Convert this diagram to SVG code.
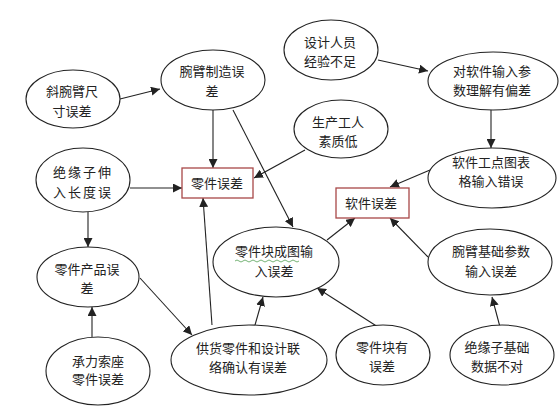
<svg xmlns="http://www.w3.org/2000/svg" width="560" height="420" viewBox="0 0 560 420">
<style>
.n ellipse{fill:#fff;stroke:#222;stroke-width:1.1}
.n rect{fill:#fff;stroke:#a84848;stroke-width:1.3}
.n text{font-family:"Noto Sans CJK SC","Noto Sans",sans-serif;font-size:13px;fill:#222;text-anchor:middle}
.c line{stroke:#222;stroke-width:1.1;marker-end:url(#ah)}
</style>
<defs>
<marker id="ah" viewBox="0 0 10 10" refX="10" refY="5" markerWidth="9" markerHeight="9" markerUnits="userSpaceOnUse" orient="auto">
<path d="M0,0 L10,5 L0,10 z" fill="#222"/>
</marker>
</defs>
<rect width="560" height="420" fill="#fff"/>
<g class="c">
<line x1="120" y1="99" x2="160" y2="89"/>
<line x1="213" y1="110" x2="213" y2="168"/>
<line x1="233" y1="110" x2="293" y2="227"/>
<line x1="305" y1="150" x2="254" y2="178"/>
<line x1="130" y1="188" x2="182" y2="188"/>
<line x1="88" y1="212" x2="88" y2="247"/>
<line x1="92" y1="337" x2="92" y2="307"/>
<line x1="140" y1="278" x2="192" y2="335"/>
<line x1="212" y1="325" x2="203" y2="198"/>
<line x1="255" y1="325" x2="263" y2="297"/>
<line x1="378" y1="327" x2="317" y2="288"/>
<line x1="327" y1="240" x2="355" y2="218"/>
<line x1="428" y1="257" x2="390" y2="218"/>
<line x1="430" y1="170" x2="390" y2="187"/>
<line x1="491" y1="110" x2="491" y2="148"/>
<line x1="378" y1="60" x2="428" y2="71"/>
<line x1="500" y1="327" x2="492" y2="297"/>
</g>
<g class="n" id="n1"><ellipse cx="73" cy="99" rx="47" ry="29"/><text x="72" y="96">斜腕臂尺</text><text x="72" y="116">寸误差</text></g>
<g class="n" id="n2"><ellipse cx="213" cy="80" rx="52" ry="30"/><text x="212" y="76">腕臂制造误</text><text x="212" y="96">差</text></g>
<g class="n" id="n3"><ellipse cx="83" cy="180" rx="47" ry="32"/><text x="83" y="177" letter-spacing="2">绝缘子伸</text><text x="83" y="197" letter-spacing="2">入长度误</text></g>
<g class="n" id="n4"><rect x="182" y="168" width="71" height="30"/><text x="217" y="188">零件误差</text></g>
<g class="n" id="n5"><ellipse cx="331" cy="50" rx="47" ry="30"/><text x="330" y="47">设计人员</text><text x="330" y="66">经验不足</text></g>
<g class="n" id="n6"><ellipse cx="493" cy="81" rx="65" ry="29"/><text x="492" y="76">对软件输入参</text><text x="492" y="95">数理解有偏差</text></g>
<g class="n" id="n7"><ellipse cx="341" cy="129" rx="47" ry="29"/><text x="338" y="127">生产工人</text><text x="338" y="146">素质低</text></g>
<g class="n" id="n8"><ellipse cx="492" cy="178" rx="64" ry="30"/><text x="491" y="167">软件工点图表</text><text x="491" y="186">格输入错误</text></g>
<g class="n" id="n9"><rect x="336" y="188" width="73" height="30"/><text x="371" y="208">软件误差</text></g>
<g class="n" id="n10"><ellipse cx="88" cy="277" rx="51" ry="30"/><text x="87" y="274">零件产品误</text><text x="87" y="293">差</text></g>
<g class="n" id="n11"><ellipse cx="98" cy="371" rx="52" ry="34"/><text x="98" y="366">承力索座</text><text x="98" y="384">零件误差</text></g>
<g class="n" id="n12"><ellipse cx="276" cy="262" rx="63" ry="35"/><text x="274" y="256">零件块成图输</text><text x="274" y="276">入误差</text><path d="M235,261 q2,-2 4,0 t4,0 t4,0 t4,0 t4,0 t4,0 t4,0 t4,0 t4,0 t4,0 t4,0 t4,0 t4,0 t4,0 t4,0 t4,0" fill="none" stroke="#6a6" stroke-width="0.9"/></g>
<g class="n" id="n13"><ellipse cx="249" cy="360" rx="78" ry="35"/><text x="248" y="353">供货零件和设计联</text><text x="248" y="372">络确认有误差</text></g>
<g class="n" id="n14"><ellipse cx="383" cy="355" rx="47" ry="30"/><text x="382" y="352">零件块有</text><text x="382" y="371">误差</text></g>
<g class="n" id="n15"><ellipse cx="490" cy="262" rx="62" ry="33"/><text x="491" y="256">腕臂基础参数</text><text x="491" y="276">输入误差</text></g>
<g class="n" id="n16"><ellipse cx="502" cy="355" rx="52" ry="30"/><text x="497" y="352">绝缘子基础</text><text x="497" y="371">数据不对</text></g>
</svg>
